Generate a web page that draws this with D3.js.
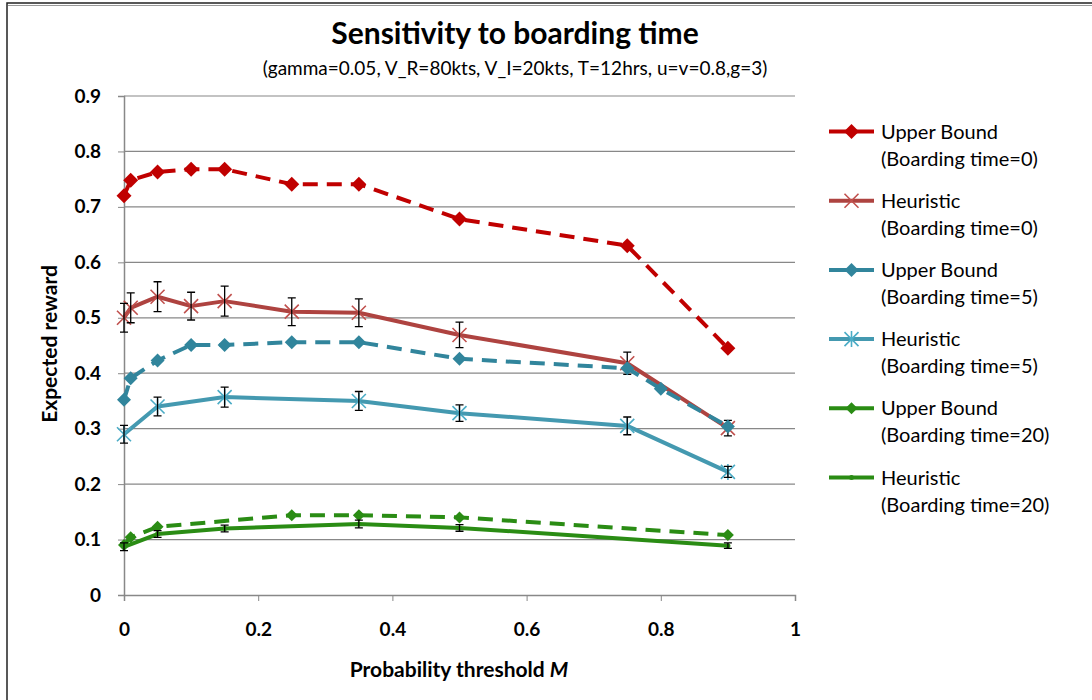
<!DOCTYPE html>
<html>
<head>
<meta charset="utf-8">
<script src="https://cdn.jsdelivr.net/npm/d3@7"></script>
<style>
  html, body { margin: 0; padding: 0; background: #fff; }
  svg { display: block; font-family: Lato, "Open Sans", sans-serif; }
</style>
</head>
<body>
<svg id="chart" width="1092" height="700"></svg>
<script>
// ---- data ----
const xUB0 = [0, 0.01, 0.05, 0.1, 0.15, 0.25, 0.35, 0.5, 0.75, 0.9];
const ub0  = [0.72, 0.748, 0.763, 0.768, 0.768, 0.741, 0.741, 0.678, 0.63, 0.445];

const xH0  = [0, 0.01, 0.05, 0.1, 0.15, 0.25, 0.35, 0.5, 0.75, 0.9];
const h0   = [0.5, 0.518, 0.538, 0.521, 0.530, 0.511, 0.509, 0.469, 0.418, 0.301];
const h0Err = [0.026, 0.027, 0.027, 0.025, 0.027, 0.025, 0.025, 0.023, 0.02, 0.014];

const xUB5 = [0, 0.01, 0.05, 0.1, 0.15, 0.25, 0.35, 0.5, 0.75, 0.8, 0.9];
const ub5  = [0.352, 0.391, 0.423, 0.451, 0.451, 0.456, 0.456, 0.426, 0.409, 0.372, 0.304];

const xH5  = [0, 0.05, 0.15, 0.35, 0.5, 0.75, 0.9];
const h5   = [0.29, 0.34, 0.357, 0.35, 0.328, 0.305, 0.222];
const h5Err = [0.016, 0.017, 0.018, 0.017, 0.015, 0.016, 0.01];

const xUB20 = [0, 0.01, 0.05, 0.25, 0.35, 0.5, 0.9];
const ub20  = [0.09, 0.104, 0.123, 0.144, 0.144, 0.140, 0.108];

const xH20 = [0, 0.05, 0.15, 0.35, 0.5, 0.9];
const h20  = [0.087, 0.11, 0.12, 0.128, 0.121, 0.089];
const h20Err = [0.007, 0.006, 0.006, 0.007, 0.006, 0.005];

const xTicks = [0, 0.2, 0.4, 0.6, 0.8, 1];
const yTicks = [0, 0.1, 0.2, 0.3, 0.4, 0.5, 0.6, 0.7, 0.8, 0.9];

const seriesNames = [
  ["Upper Bound", "(Boarding time=0)"],
  ["Heuristic", "(Boarding time=0)"],
  ["Upper Bound", "(Boarding time=5)"],
  ["Heuristic", "(Boarding time=5)"],
  ["Upper Bound", "(Boarding time=20)"],
  ["Heuristic", "(Boarding time=20)"]
];

const titleText = "Sensitivity to boarding time";
const subtitleText = "(gamma=0.05, V_R=80kts, V_I=20kts, T=12hrs, u=v=0.8,g=3)";

// ---- build series ----
const zip = (xs, ys, es) => xs.map((x, i) => ({x, y: ys[i], e: es ? es[i] : null}));
const series = [
  {name: seriesNames[0], pts: zip(xUB0, ub0), color: "#C00000", dash: "15,9", marker: "diamond", ms: 7.5},
  {name: seriesNames[1], pts: zip(xH0, h0, h0Err), color: "#AE4340", dash: null, marker: "x", ms: 7, mcolor: "#C0504D"},
  {name: seriesNames[2], pts: zip(xUB5, ub5), color: "#31859C", dash: "15,9", marker: "diamond", ms: 7},
  {name: seriesNames[3], pts: zip(xH5, h5, h5Err), color: "#4499B0", dash: null, marker: "star", ms: 7, mcolor: "#4BACC6"},
  {name: seriesNames[4], pts: zip(xUB20, ub20), color: "#2A8C14", dash: "15,9", marker: "diamond", ms: 6},
  {name: seriesNames[5], pts: zip(xH20, h20, h20Err), color: "#2A8C14", dash: null, marker: "dot", ms: 2.5}
];

// ---- layout ----
const svg = d3.select("#chart");
const x = d3.scaleLinear().domain([0, 1]).range([124, 795]);
const y = d3.scaleLinear().domain([0, 0.9]).range([595, 96]);

// outer frame
svg.append("rect").attr("x", 7).attr("y", 3).attr("width", 1120).attr("height", 720)
  .attr("fill", "none").attr("stroke", "#222").attr("stroke-width", 1.5);
svg.append("line").attr("x1", 8).attr("x2", 1092).attr("y1", 5.5).attr("y2", 5.5)
  .attr("stroke", "#999").attr("stroke-width", 1);

// title
svg.append("text").attr("x", 515).attr("y", 44).attr("text-anchor", "middle")
  .attr("font-size", 30).attr("font-weight", "bold").attr("fill", "#000").text(titleText);
svg.append("text").attr("x", 515).attr("y", 75).attr("text-anchor", "middle")
  .attr("font-size", 19).attr("fill", "#000").text(subtitleText);

// gridlines
svg.append("g").selectAll("line").data(yTicks.filter(d => d > 0)).join("line")
  .attr("x1", x(0)).attr("x2", x(1)).attr("y1", d => y(d)).attr("y2", d => y(d))
  .attr("stroke", "#888").attr("stroke-width", 1.2);

// axes
const yAxis = d3.axisLeft(y).tickValues(yTicks).tickSize(6).tickPadding(17)
  .tickFormat(d => d === 0 ? "0" : d3.format(".1f")(d));
const gy = svg.append("g").attr("transform", `translate(${x(0)},0)`).call(yAxis);
gy.select(".domain").attr("stroke", "#888").attr("stroke-width", 1.5);
gy.selectAll(".tick line").attr("stroke", "#888");
gy.selectAll("text").attr("font-size", 19).attr("font-weight", "bold").attr("fill", "#000")
  .attr("font-family", "Lato, sans-serif");

const xAxis = d3.axisBottom(x).tickValues(xTicks).tickSize(6).tickPadding(22)
  .tickFormat(d => d === 0 || d === 1 ? String(d) : d3.format(".1f")(d));
const gx = svg.append("g").attr("transform", `translate(0,${y(0)})`).call(xAxis);
gx.select(".domain").attr("stroke", "#888").attr("stroke-width", 1.5);
gx.selectAll(".tick line").attr("stroke", "#888");
gx.selectAll("text").attr("font-size", 19).attr("font-weight", "bold").attr("fill", "#000")
  .attr("font-family", "Lato, sans-serif");

// axis titles
const xt = svg.append("text").attr("x", 459).attr("y", 677).attr("text-anchor", "middle")
  .attr("font-size", 21).attr("font-weight", "bold").attr("fill", "#000");
xt.append("tspan").text("Probability threshold ");
xt.append("tspan").attr("font-style", "italic").text("M");

svg.append("text").attr("transform", "translate(57,344) rotate(-90)").attr("text-anchor", "middle")
  .attr("font-size", 21).attr("font-weight", "bold").attr("fill", "#000").text("Expected reward");

// marker drawing
function drawMarker(g, s, cx, cy) {
  const m = s.ms, mc = s.mcolor || s.color;
  if (s.marker === "diamond") {
    g.append("path").attr("d", `M${cx},${cy - m}L${cx + m},${cy}L${cx},${cy + m}L${cx - m},${cy}Z`)
      .attr("fill", s.color);
  } else if (s.marker === "x") {
    g.append("path").attr("d", `M${cx - m},${cy - m}L${cx + m},${cy + m}M${cx - m},${cy + m}L${cx + m},${cy - m}`)
      .attr("stroke", mc).attr("stroke-width", 1.6).attr("fill", "none");
  } else if (s.marker === "star") {
    g.append("path").attr("d", `M${cx - m},${cy - m}L${cx + m},${cy + m}M${cx - m},${cy + m}L${cx + m},${cy - m}M${cx},${cy - m - 1}L${cx},${cy + m + 1}`)
      .attr("stroke", mc).attr("stroke-width", 1.6).attr("fill", "none");
  } else if (s.marker === "dot") {
    g.append("circle").attr("cx", cx).attr("cy", cy).attr("r", m).attr("fill", s.color);
  }
}

// series
const line = d3.line().x(d => x(d.x)).y(d => y(d.y));
series.forEach(s => {
  const g = svg.append("g");
  g.append("path").datum(s.pts).attr("d", line).attr("fill", "none")
    .attr("stroke", s.color).attr("stroke-width", 4).attr("stroke-linejoin", "round")
    .attr("stroke-dasharray", s.dash);
  s.pts.forEach(p => drawMarker(g, s, x(p.x), y(p.y)));
  // error bars
  s.pts.filter(p => p.e != null).forEach(p => {
    const cx = x(p.x), y1 = y(p.y + p.e), y2 = y(p.y - p.e);
    g.append("path").attr("d", `M${cx},${y1}L${cx},${y2}M${cx - 4},${y1}L${cx + 4},${y1}M${cx - 4},${y2}L${cx + 4},${y2}`)
      .attr("stroke", "#000").attr("stroke-width", 1.3).attr("fill", "none");
  });
});

// legend
const lg = svg.append("g");
series.forEach((s, i) => {
  const ly = 131.5 + i * 69.2;
  const row = lg.append("g");
  row.append("line").attr("x1", 829).attr("x2", 874).attr("y1", ly).attr("y2", ly)
    .attr("stroke", s.color).attr("stroke-width", 4);
  drawMarker(row, s, 851.5, ly);
  row.append("text").attr("x", 881).attr("y", ly + 7).attr("font-size", 20).attr("fill", "#000").text(s.name[0]);
  row.append("text").attr("x", 881).attr("y", ly + 34).attr("font-size", 20).attr("fill", "#000").text(s.name[1]);
});
</script>
</body>
</html>
